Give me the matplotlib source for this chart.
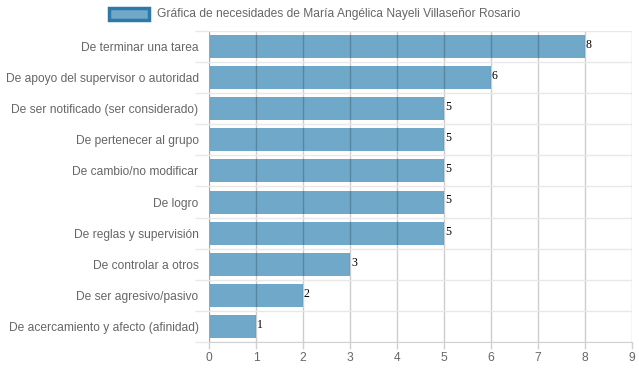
import matplotlib
matplotlib.use("Agg")
import matplotlib.pyplot as plt
from matplotlib.patches import Rectangle
import numpy as np

categories = [
    "De terminar una tarea",
    "De apoyo del supervisor o autoridad",
    "De ser notificado (ser considerado)",
    "De pertenecer al grupo",
    "De cambio/no modificar",
    "De logro",
    "De reglas y supervisión",
    "De controlar a otros",
    "De ser agresivo/pasivo",
    "De acercamiento y afecto (afinidad)",
]
values = [8, 6, 5, 5, 5, 5, 5, 3, 2, 1]
x_ticks = list(range(0, 10))
legend_label = "Gráfica de necesidades de María Angélica Nayeli Villaseñor Rosario"

plt.rcParams['font.family'] = ['Liberation Sans', 'DejaVu Sans']
FS = 8.64

fig = plt.figure(figsize=(6.39, 3.72), dpi=100)
ax = fig.add_axes([209/639, 1 - 342/372, (632 - 209)/639, (342 - 31)/372])

y = np.arange(len(categories))
bar_color = (111/255, 168/255, 200/255)
ax.barh(y, values, height=0.74, color=bar_color, zorder=1)

ax.set_ylim(len(categories) - 0.5, -0.5)
ax.set_xlim(0, 9)
ax.set_xticks(x_ticks)
ax.set_yticks(y)
ax.set_yticklabels(categories)
ax.set_yticks(np.arange(-0.5, len(categories), 1), minor=True)

ax.tick_params(axis='x', colors='#666666', labelsize=FS, length=5, width=1,
               color='#d0d0d0', pad=2)
ax.tick_params(axis='y', which='major', length=0, labelsize=FS, colors='#666666', pad=7.5)
ax.tick_params(axis='y', which='minor', length=10, color='#e8e8e8', width=1)

ax.grid(axis='x', color='black', alpha=0.2, linewidth=1, zorder=3)
ax.grid(axis='y', which='minor', color='#e8e8e8', linewidth=1, zorder=0)
ax.set_axisbelow(False)
for s in ['top', 'right']:
    ax.spines[s].set_visible(False)
ax.spines['left'].set_color('#d0d0d0')
ax.spines['bottom'].set_color('#d0d0d0')

for yi, v in zip(y, values):
    ax.text(v + 0.02, yi - 0.05, str(v), family='Liberation Serif', fontsize=8.5,
            color='black', ha='left', va='center', zorder=4)

# legend
fig.patches.append(Rectangle((109/639, 1 - 20/372), 40/639, 12/372,
                             transform=fig.transFigure, facecolor=bar_color,
                             edgecolor='#2d79a8', linewidth=2.5))
fig.text(157/639, 1 - 13.5/372, legend_label, fontsize=FS, color='#666666',
         ha='left', va='center')

fig.savefig("out.png", dpi=100)
